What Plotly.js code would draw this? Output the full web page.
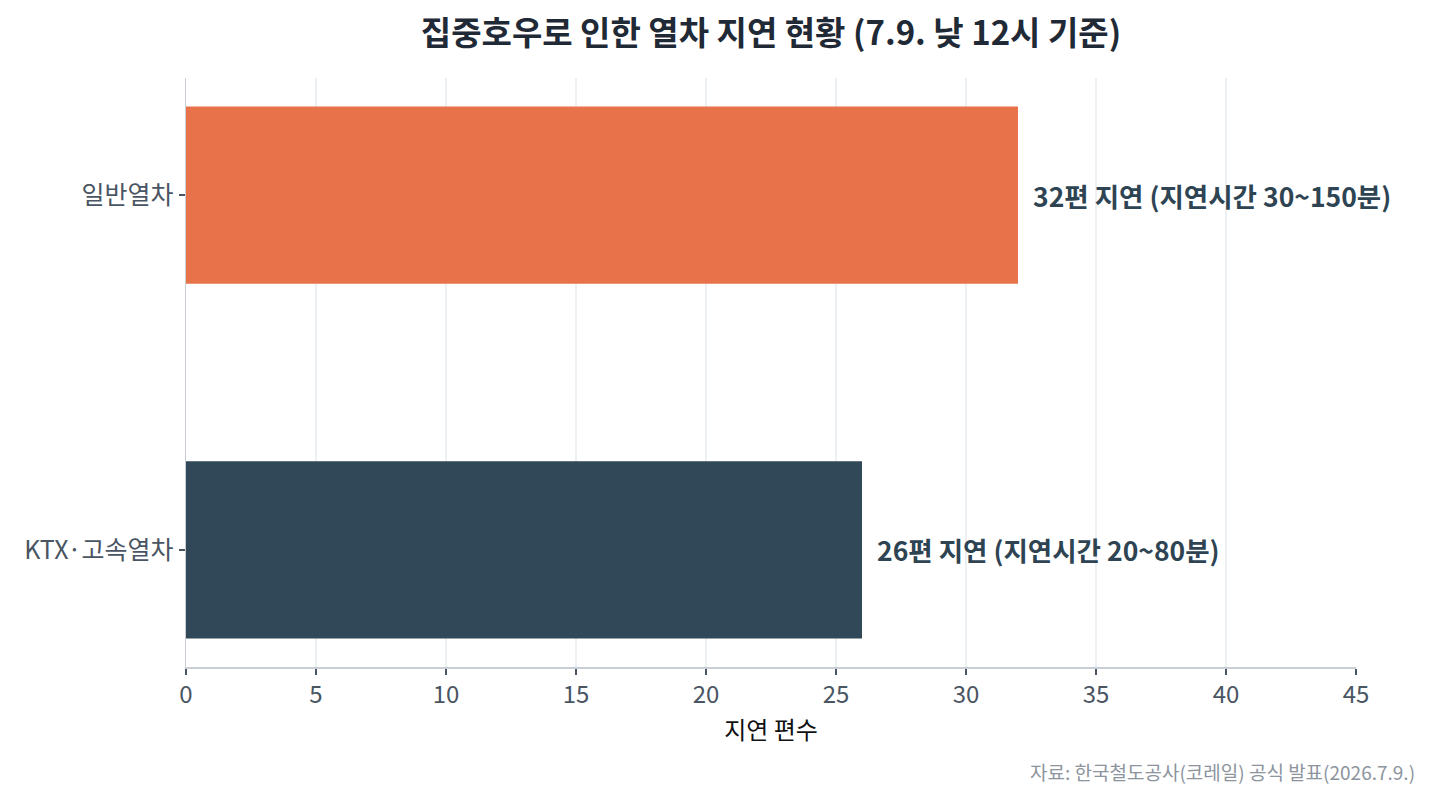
<!DOCTYPE html>
<html>
<head>
<meta charset="utf-8">
<script src="https://cdn.plot.ly/plotly-3.0.1.min.js"></script>
<style>
  html, body { margin: 0; padding: 0; background: #fff; }
  #chart { width: 1433px; height: 801px; }
</style>
</head>
<body>
<div id="chart"></div>
<script>
// ── Data ─────────────────────────────────────────────
const CATEGORIES = ['일반열차', 'KTX·고속열차'];
const DELAYS     = [32, 26];
const LABELS     = ['32편 지연 (지연시간 30~150분)', '26편 지연 (지연시간 20~80분)'];
const COLORS     = ['#E8734B', '#314859'];
const X_TICKS    = [0, 5, 10, 15, 20, 25, 30, 35, 40, 45];

const FONT = 'Noto Sans CJK KR, Noto Sans, sans-serif';

const trace = {
  type: 'bar',
  orientation: 'h',
  y: CATEGORIES,
  x: DELAYS,
  width: 0.5,
  marker: { color: COLORS, line: { width: 0 } },
  hoverinfo: 'skip',
};

// value labels sit just past each bar end
const labelNotes = CATEGORIES.map((cat, i) => ({
  x: DELAYS[i], y: cat, xref: 'x', yref: 'y',
  text: '<b>' + LABELS[i] + '</b>',
  showarrow: false, xanchor: 'left', yanchor: 'middle', xshift: 13,
  font: { family: FONT, size: 26.5, color: '#2E4453' },
}));

const layout = {
  width: 1433, height: 801,
  paper_bgcolor: '#fff', plot_bgcolor: '#fff',
  font: { family: FONT, color: '#4A5563' },
  margin: { t: 78, r: 77, b: 134, l: 186 },
  title: {
    text: '<b>집중호우로 인한 열차 지연 현황 (7.9. 낮 12시 기준)</b>',
    font: { family: FONT, size: 33, color: '#1F2A36' },
    x: 0.5, xref: 'paper', xanchor: 'center',
    y: 0.958, yref: 'container', yanchor: 'middle',
  },
  xaxis: {
    range: [0, 45],
    tickvals: X_TICKS,
    ticks: 'outside', ticklen: 6, tickwidth: 1.5, tickcolor: '#4A5563',
    tickfont: { size: 24, color: '#4A5563' },
    showgrid: true, gridcolor: '#EDF0F3', gridwidth: 1.5,
    showline: true, linecolor: '#C9CED5', linewidth: 1.5,
    zeroline: false,
    title: { text: '지연 편수', font: { size: 24, color: '#111' }, standoff: 13 },
  },
  yaxis: {
    categoryorder: 'array', categoryarray: CATEGORIES,
    autorange: false, range: [1.33, -0.33],
    ticks: 'outside', ticklen: 6, tickwidth: 1.5, tickcolor: '#4A5563',
    tickfont: { size: 25, color: '#4A5563' },
    showgrid: false,
    showline: true, linecolor: '#C9CED5', linewidth: 1.5,
    zeroline: false,
  },
  showlegend: false,
  annotations: [
    ...labelNotes,
    {
      text: '자료: 한국철도공사(코레일) 공식 발표(2026.7.9.)',
      xref: 'paper', yref: 'paper', x: 1.052, y: -0.177,
      xanchor: 'right', yanchor: 'middle', showarrow: false,
      font: { family: FONT, size: 19, color: '#8C949E' },
    },
  ],
};

Plotly.newPlot('chart', [trace], layout, { displayModeBar: false, staticPlot: true });
</script>
</body>
</html>
